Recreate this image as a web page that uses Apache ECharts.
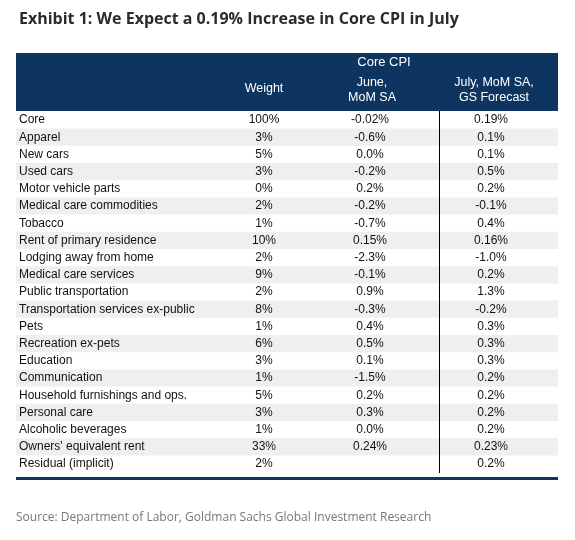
<!DOCTYPE html>
<html><head><meta charset="utf-8">
<script src="https://cdn.jsdelivr.net/npm/echarts@6/dist/echarts.min.js"></script>
<style>html,body{margin:0;background:#fff}#c{width:575px;height:540px}</style>
</head><body><div id="c"></div>
<script>
const categories = ["Core","Apparel","New cars","Used cars","Motor vehicle parts","Medical care commodities","Tobacco","Rent of primary residence","Lodging away from home","Medical care services","Public transportation","Transportation services ex-public","Pets","Recreation ex-pets","Education","Communication","Household furnishings and ops.","Personal care","Alcoholic beverages","Owners' equivalent rent","Residual (implicit)"];
const weights = ["100%","3%","5%","3%","0%","2%","1%","10%","2%","9%","2%","8%","1%","6%","3%","1%","5%","3%","1%","33%","2%"];
const juneMoM = ["-0.02%","-0.6%","0.0%","-0.2%","0.2%","-0.2%","-0.7%","0.15%","-2.3%","-0.1%","0.9%","-0.3%","0.4%","0.5%","0.1%","-1.5%","0.2%","0.3%","0.0%","0.24%",""];
const julyForecast = ["0.19%","0.1%","0.1%","0.5%","0.2%","-0.1%","0.4%","0.16%","-1.0%","0.2%","1.3%","-0.2%","0.3%","0.3%","0.3%","0.2%","0.2%","0.2%","0.2%","0.23%","0.2%"];
const headers = ["Weight","June,\nMoM SA","July, MoM SA,\nGS Forecast"];

const N = categories.length;
const rowData = categories.map((c,i)=>[i, c, weights[i], juneMoM[i], julyForecast[i]]);
const font = '"Liberation Sans", Arial, sans-serif';
const navy = '#0d3560';

const chart = echarts.init(document.getElementById('c'));
chart.setOption({
  animation:false,
  backgroundColor:'#fff',
  title:{text:'Exhibit 1: We Expect a 0.19% Increase in Core CPI in July', left:14, top:6,
    textStyle:{fontFamily:'"Open Sans", Lato, sans-serif', fontWeight:'bold', fontSize:16, color:'#2b2b2b'}},
  grid:{left:16, right:17, top:111.4, height:17.2*N},
  xAxis:{type:'value', min:0, max:542, show:false},
  yAxis:{type:'category', data:categories, inverse:true, show:false},
  graphic:[
    {type:'rect', shape:{x:16,y:53,width:542,height:58}, style:{fill:navy}},
    {type:'text', x:384, y:56, style:{text:'Core CPI', font:'13px '+font, fill:'#fff', align:'center'}},
    {type:'text', x:264, y:82, style:{text:headers[0], font:'12.5px '+font, fill:'#fff', align:'center'}},
    {type:'text', x:372, y:75, style:{text:headers[1], font:'12.5px '+font, fill:'#fff', align:'center', lineHeight:15}},
    {type:'text', x:494, y:75, style:{text:headers[2], font:'12.5px '+font, fill:'#fff', align:'center', lineHeight:15}},
    {type:'line', z:100, shape:{x1:439.5,y1:111,x2:439.5,y2:473}, style:{stroke:'#000', lineWidth:1}},
    {type:'rect', shape:{x:16,y:477,width:542,height:3}, style:{fill:navy}},
    {type:'text', x:16, y:512, style:{text:'Source: Department of Labor, Goldman Sachs Global Investment Research', font:'12px "Open Sans", sans-serif', fill:'#777'}}
  ],
  series:[{
    type:'custom', data:rowData, z:1,
    encode:{y:0},
    renderItem:(params, api)=>{
      const i = api.value(0);
      const p = api.coord([0, i]);
      const h = api.size([0,1])[1];
      const cy = p[1];
      const x0 = p[0];
      const kids = [];
      if (i % 2 === 1) kids.push({type:'rect', shape:{x:x0, y:cy-h/2, width:api.coord([542,i])[0]-x0, height:h}, style:{fill:'#efefef'}, z2:0});
      const t = (txt, x, align)=>({type:'text', z2:2, style:{text:txt, x:api.coord([x,i])[0], y:cy, align:align, verticalAlign:'middle', font:'12px '+font, fill:'#111'}});
      kids.push(t(rowData[i][1], 3, 'left'));
      kids.push(t(rowData[i][2], 248, 'center'));
      kids.push(t(rowData[i][3], 354, 'center'));
      kids.push(t(rowData[i][4], 475, 'center'));
      return {type:'group', children:kids};
    }
  }]
});
</script></body></html>
